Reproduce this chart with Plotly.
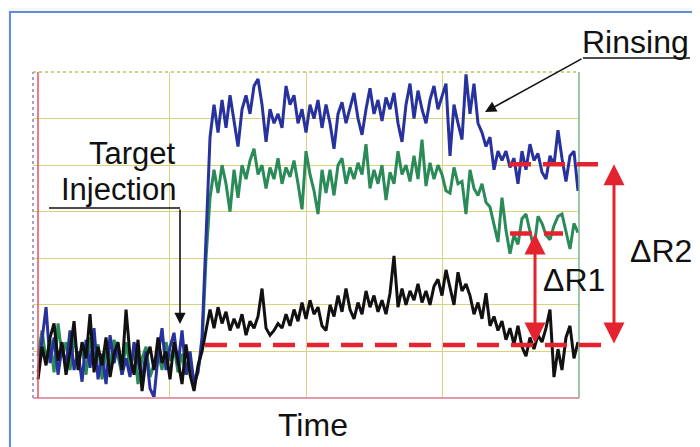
import plotly.graph_objects as go

# ---------------- data ----------------
N_SAMPLES = 136
TIME = [round(0.37 + 0.293 * i, 3) for i in range(N_SAMPLES)]  # sampling time base

BLUE = [
    0.55, 1.2, 1.95, 0.75, 1.3, 0.5, 1.1, 0.7, 1.45, 0.6,
    1.0, 0.35, 1.25, 0.65, 1.5, 0.4, 0.95, 0.3, 1.35, 0.75,
    1.15, 0.5, 0.85, 0.45, 1.2, 0.8, 0.35, 1.0, 0.2, 0.02,
    0.9, 1.5, 0.6, 1.1, 1.4, 0.7, 1.45, 0.5, 1.0, 0.3,
    0.55, 1.3, 3.4, 5.6, 6.3, 5.7, 6.4, 5.8, 6.5, 5.9,
    5.4, 6.2, 6.5, 6.1, 6.7, 6.85, 6.3, 5.5, 6.2, 5.9,
    6.1, 5.8, 6.7, 6.3, 6.5, 5.9, 6.2, 5.7, 6.3, 6.0,
    6.4, 5.8, 6.3, 5.9, 5.35, 6.1, 6.35, 5.9, 6.2, 6.55,
    6.0, 5.65, 6.2, 6.65, 6.1, 6.4, 5.95, 6.45, 6.2, 6.55,
    5.9, 5.5, 6.3, 6.75, 6.0, 6.6, 6.2, 5.9, 6.4, 6.7,
    6.2, 6.5, 6.75, 5.2, 6.3, 5.9, 5.55, 6.95, 6.1, 6.75,
    5.9, 5.7, 5.4, 5.6, 4.9, 5.3, 5.1, 5.3, 4.95, 5.15,
    4.6, 5.3, 4.9, 5.45, 5.1, 5.25, 4.85, 4.7, 5.2, 5.0,
    5.75, 5.15, 4.65, 5.2, 5.3, 4.45,
]

GREEN = [
    0.9, 1.45, 0.8, 1.25, 0.55, 1.6, 0.9, 1.2, 0.6, 1.35,
    0.75, 1.1, 0.5, 1.3, 0.85, 1.15, 0.4, 1.0, 0.7, 1.25,
    0.9, 0.5, 1.2, 0.65, 1.05, 0.3, 0.85, 1.1, 0.45, 0.75,
    1.0, 0.6, 1.2, 0.8, 1.1, 0.55, 0.95, 0.5, 0.8, 0.35,
    0.6, 1.1, 3.0, 4.3, 4.9, 4.4, 5.0, 4.6, 4.0, 4.9,
    4.3, 5.0, 4.7, 5.1, 5.35, 4.8, 5.0, 4.5, 4.95, 4.7,
    5.15, 4.6, 4.95, 4.75, 5.1, 4.6, 4.05, 5.3, 4.8, 4.45,
    3.95, 4.9, 4.4, 4.9, 4.35, 5.0, 5.15, 4.6, 4.95, 4.7,
    5.05, 4.8, 5.45, 4.5, 4.9, 4.6, 5.0, 4.25, 4.85, 4.6,
    5.3, 4.8, 5.0, 4.65, 5.2, 4.7, 5.55, 4.55, 5.05, 4.7,
    5.0, 4.8, 4.45, 4.4, 4.95, 4.6, 4.65, 3.95, 4.9, 4.5,
    4.35, 4.6, 4.2, 4.1, 3.7, 3.35, 4.3, 3.6, 3.1, 3.5,
    3.3, 3.85, 3.95, 3.55, 3.2, 3.9, 3.75, 3.5, 3.4, 3.7,
    3.9, 3.95, 3.6, 3.2, 3.75, 3.55,
]

BLACK = [
    0.4, 1.1, 0.7, 1.3, 1.6, 0.8, 1.2, 0.5, 1.0, 1.65,
    0.6, 1.2, 0.85, 1.8, 0.55, 1.1, 0.7, 1.3, 0.45, 0.95,
    1.2, 0.6, 1.9, 0.9, 0.5, 1.25, 0.15, 0.85, 1.1, 0.6,
    1.3, 0.75, 1.0, 0.4, 1.2, 0.8, 0.3, 1.15, 0.5, 0.15,
    0.7, 1.0, 1.45, 1.9, 1.5, 1.95, 1.6, 1.85, 1.45, 1.7,
    1.5, 1.8, 1.35, 1.65, 1.5, 1.75, 2.35, 1.5, 1.35, 1.45,
    1.6, 1.5, 1.8, 1.55, 1.9, 1.65, 2.05, 1.7, 2.1, 1.8,
    1.95, 1.55, 1.45, 2.0, 1.75, 2.2, 1.85, 2.35, 1.9, 1.7,
    2.05, 1.8, 2.3, 1.95, 2.2, 1.85, 2.1, 1.8, 2.25, 3.05,
    1.95, 2.35, 2.0, 2.3, 2.1, 2.45, 2.05, 2.3, 2.0, 2.4,
    2.55, 2.2, 2.75, 2.35, 2.0, 2.7, 2.3, 2.45, 2.2, 1.8,
    2.05, 1.7, 2.25, 1.55, 1.75, 1.45, 1.65, 1.25, 1.5, 1.15,
    1.55, 1.1, 0.9, 1.3, 1.05, 1.35, 1.2, 1.5, 1.9, 0.45,
    1.05, 0.6, 1.3, 1.55, 0.85, 1.2,
]

LEVEL_BASE = 1.14   # baseline after injection
LEVEL_R1 = 3.53     # green plateau after rinsing
LEVEL_R2 = 5.02     # blue plateau after rinsing

X_RANGE = [0, 40]
Y_RANGE = [0, 7]

# ---------------- style ----------------
RED = "#e3242f"
GRID = "#d9d27c"
FONT = "Liberation Sans, Arial, Helvetica, sans-serif"

fig = go.Figure()
for name, vals, col in [("green", GREEN, "#2a8a58"),
                        ("blue", BLUE, "#27329e"),
                        ("black", BLACK, "#111111")]:
    fig.add_trace(go.Scatter(x=TIME, y=vals, mode="lines", name=name,
                             line=dict(color=col, width=3),
                             hoverinfo="skip", showlegend=False))

# page has an 8px body margin; figure is sized so the page looks 700x447
OFF = 8
W, H = 700 - OFF, 447 - OFF
PL, PR, PT, PB = 33, 579, 72, 398          # plot frame in page pixels
L, R, T, B = PL - OFF, W - (PR - OFF), PT - OFF, H - (PB - OFF)
pw, ph = PR - PL, PB - PT


def px(xp):
    return (xp - PL) / pw


def py(yp):
    return (PB - yp) / ph


shapes = []
# outer frame
shapes.append(dict(type="rect", xref="paper", yref="paper",
                   x0=px(10), x1=px(705), y0=py(452), y1=py(12),
                   line=dict(color="#5b8fd8", width=2), fillcolor="white",
                   layer="below"))
# plot frame lines
shapes += [
    dict(type="line", xref="paper", yref="paper", x0=0, x1=1, y0=1, y1=1,
         line=dict(color="#b9c85c", width=1.5, dash="dot")),
    dict(type="line", xref="paper", yref="paper", x0=0, x1=1, y0=0, y1=0,
         line=dict(color="#e49aa6", width=2)),
    dict(type="line", xref="paper", yref="paper", x0=0, x1=0, y0=0, y1=1,
         line=dict(color="#9ea6c4", width=2, dash="dot")),
    dict(type="line", xref="paper", yref="paper", x0=px(38), x1=px(38), y0=0, y1=1,
         line=dict(color="#ec4c5c", width=1.5)),
    dict(type="line", xref="paper", yref="paper", x0=1, x1=1, y0=0, y1=1,
         line=dict(color="#78b48e", width=1.5)),
]
# dashed reference levels
dash = dict(color=RED, width=4.5, dash="22px,12px")
shapes += [
    dict(type="line", xref="paper", yref="y", x0=px(205), x1=px(602),
         y0=LEVEL_BASE, y1=LEVEL_BASE, line=dash),
    dict(type="line", xref="paper", yref="y", x0=px(509), x1=px(598),
         y0=LEVEL_R2, y1=LEVEL_R2, line=dash),
    dict(type="line", xref="paper", yref="y", x0=px(510), x1=px(563),
         y0=LEVEL_R1, y1=LEVEL_R1, line=dash),
]
# leader underlines
shapes += [
    dict(type="line", xref="paper", yref="paper", x0=px(583), x1=px(690),
         y0=py(58), y1=py(58), line=dict(color="#111", width=1.6)),
    dict(type="line", xref="paper", yref="paper", x0=px(49), x1=px(180),
         y0=py(208), y1=py(208), line=dict(color="#111", width=1.6)),
]

ann = []
txt = dict(family=FONT, size=32, color="#111")
txt_s = dict(family=FONT, size=31, color="#111")
ann.append(dict(text="Rinsing", xref="paper", yref="paper", x=px(691), y=py(42),
                xanchor="right", yanchor="middle", showarrow=False, font=txt))
ann.append(dict(text="Target", xref="paper", yref="paper", x=px(177), y=py(153),
                xanchor="right", yanchor="middle", showarrow=False, font=txt_s,
                borderpad=0))
ann.append(dict(text="Injection", xref="paper", yref="paper", x=px(177), y=py(189),
                xanchor="right", yanchor="middle", showarrow=False, font=txt_s,
                borderpad=0))
ann.append(dict(text="Time", xref="paper", yref="paper", x=px(313), y=py(425),
                xanchor="center", yanchor="middle", showarrow=False, font=txt))
ann.append(dict(text="ΔR1", xref="paper", yref="paper", x=px(574), y=py(280),
                xanchor="center", yanchor="middle", showarrow=False, font=txt))
ann.append(dict(text="ΔR2", xref="paper", yref="paper", x=px(661), y=py(251),
                xanchor="center", yanchor="middle", showarrow=False, font=txt))
# leader arrows
ann.append(dict(text="", xref="paper", yref="paper", x=px(485), y=py(112),
                ax=583 - 485, ay=58 - 112, showarrow=True, arrowhead=2,
                arrowsize=1.4, arrowwidth=1.6, arrowcolor="#111"))
ann.append(dict(text="", xref="paper", yref="paper", x=px(180), y=py(324),
                ax=0, ay=208 - 324, showarrow=True, arrowhead=2,
                arrowsize=1.4, arrowwidth=1.6, arrowcolor="#111"))
# double-headed ΔR arrows
for xp, top in [(535, LEVEL_R1), (614, LEVEL_R2)]:
    ann.append(dict(text="", xref="paper", yref="y", x=px(xp), y=top,
                    axref="pixel", ayref="y", ax=0, ay=LEVEL_BASE,
                    showarrow=True, arrowside="end+start",
                    arrowhead=2, startarrowhead=2,
                    arrowsize=1.4, startarrowsize=1.4,
                    arrowwidth=3, arrowcolor=RED))

fig.update_layout(
    width=W, height=H,
    margin=dict(l=L, r=R, t=T, b=B, pad=0),
    paper_bgcolor="#f6f6f6", plot_bgcolor="white",
    xaxis=dict(range=X_RANGE, dtick=10, showgrid=True, gridcolor=GRID,
               gridwidth=1.3, showticklabels=False, zeroline=False,
               showline=False, ticks=""),
    yaxis=dict(range=Y_RANGE, dtick=1, showgrid=True, gridcolor=GRID,
               gridwidth=1.3, showticklabels=False, zeroline=False,
               showline=False, ticks=""),
    shapes=shapes, annotations=ann, showlegend=False, hovermode=False,
)

fig.write_html("out.html")
